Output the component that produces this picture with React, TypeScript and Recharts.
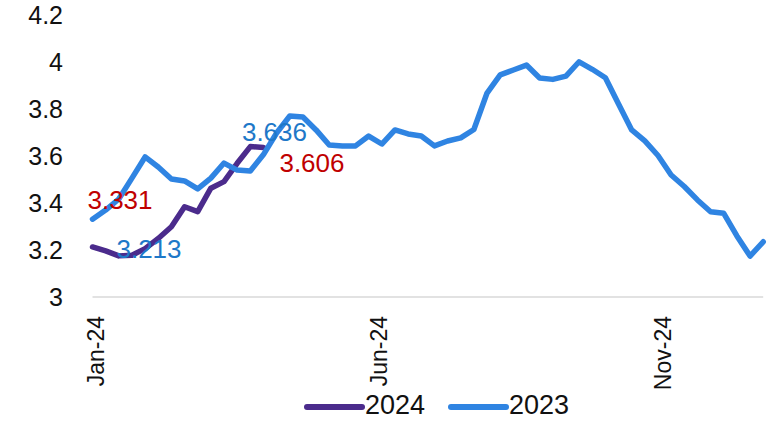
import React from 'react';
import { LineChart, Line, XAxis, YAxis, Legend, LabelList } from 'recharts';

// Week index along the 2024 calendar (52 weekly observations)
const weekIndex: number[] = Array.from({ length: 52 }, (_, i) => i);

// X tick positions (in week units) and their labels
const xTickPositions = [0.27, 21.75, 43.4];
const xTickLabels = ['Jan-24', 'Jun-24', 'Nov-24'];

const yTicks = [3, 3.2, 3.4, 3.6, 3.8, 4, 4.2];

const series2023 = [
  3.331, 3.37, 3.417, 3.506, 3.596, 3.553, 3.502, 3.494, 3.46, 3.506, 3.57, 3.54, 3.536,
  3.606, 3.698, 3.77, 3.766, 3.711, 3.647, 3.643, 3.643, 3.685, 3.651, 3.711, 3.694, 3.685,
  3.643, 3.664, 3.677, 3.713, 3.868, 3.945, 3.966, 3.987, 3.932, 3.926, 3.94, 4.001, 3.969,
  3.933, 3.821, 3.711, 3.664, 3.602, 3.519, 3.47, 3.413, 3.363, 3.356, 3.26, 3.174, 3.235,
];

const series2024 = [
  3.213, 3.196, 3.175, 3.178, 3.206, 3.249, 3.299, 3.384, 3.363, 3.463, 3.491, 3.569, 3.64, 3.636,
];

const seriesNames = ['2024', '2023'];

const data = weekIndex.map((w, i) => ({
  w,
  y2024: i < series2024.length ? series2024[i] : null,
  y2023: series2023[i],
}));

const FONT = '"Liberation Sans", Arial, sans-serif';
const PURPLE = '#4B2B8C';
const BLUE = '#2F84E2';
const RED = '#C00000';
const LABEL_BLUE = '#1E78C8';
const seriesColors = [PURPLE, BLUE];

const labelSpecs: Record<string, { index: number; dx: number; dy: number; color: string }[]> = {
  y2023: [
    { index: 0, dx: 27.5, dy: -19, color: RED },
    { index: 13, dx: 48.5, dy: 8.5, color: RED },
  ],
  y2024: [
    { index: 0, dx: 56.5, dy: 2, color: LABEL_BLUE },
    { index: 13, dx: 11, dy: -16, color: LABEL_BLUE },
  ],
};

const makeLabel = (key: string) => (props: any) => {
  const { x, y, value, index } = props;
  const spec = labelSpecs[key].find((s) => s.index === index);
  if (!spec || value == null) return null;
  return (
    <text
      x={x + spec.dx}
      y={y + spec.dy}
      textAnchor="middle"
      dominantBaseline="central"
      fill={spec.color}
      fontSize={26}
      fontFamily={FONT}
    >
      {Number(value).toFixed(3)}
    </text>
  );
};

const XTick = (props: any) => {
  const { x, payload } = props;
  const idx = xTickPositions.indexOf(payload.value);
  const label = idx >= 0 ? xTickLabels[idx] : '';
  return (
    <text
      transform={`translate(${x},316) rotate(-90)`}
      textAnchor="end"
      dominantBaseline="central"
      fontSize={23}
      fontFamily={FONT}
      fill="#111"
    >
      {label}
    </text>
  );
};

const YTick = (props: any) => {
  const { y, payload } = props;
  return (
    <text
      x={63}
      y={y}
      textAnchor="end"
      dominantBaseline="central"
      fontSize={25}
      fontFamily={FONT}
      fill="#111"
    >
      {String(payload.value)}
    </text>
  );
};

const LegendContent = () => {
  return (
    <svg width={777} height={40} style={{ display: 'block' }}>
      {seriesNames.map((name, i) => {
        const x0 = 307 + i * 144;
        return (
          <g key={name}>
            <line x1={x0} x2={x0 + 55} y1={26} y2={26} stroke={seriesColors[i]} strokeWidth={6} strokeLinecap="round" />
            <text x={x0 + 58} y={33} fontSize={27} fontFamily={FONT} fill="#111">
              {name}
            </text>
          </g>
        );
      })}
    </svg>
  );
};

export default function App() {
  return (
    <div style={{ position: 'absolute', left: 0, top: 0, width: 777, height: 421, background: '#fff', overflow: 'hidden' }}>
      <LineChart width={777} height={421} data={data} margin={{ top: 15, right: 13.8, bottom: 0, left: 0 }}>
        <XAxis
          dataKey="w"
          type="number"
          domain={[0, 51]}
          ticks={xTickPositions}
          tick={<XTick />}
          tickLine={false}
          axisLine={{ stroke: '#D9D9D9', strokeWidth: 1.5 }}
          height={124}
          interval={0}
        />
        <YAxis
          domain={[3, 4.2]}
          ticks={yTicks}
          tick={<YTick />}
          tickLine={false}
          axisLine={false}
          width={92.5}
          interval={0}
        />
        <Legend
          layout="horizontal"
          align="center"
          verticalAlign="middle"
          wrapperStyle={{ left: 0, top: 381, width: 777, height: 40 }}
          content={<LegendContent />}
        />
        <Line
          dataKey="y2024"
          name={seriesNames[0]}
          stroke={PURPLE}
          strokeWidth={5.5}
          dot={false}
          strokeLinejoin="round"
          strokeLinecap="round"
          isAnimationActive={false}
          connectNulls={false}
        >
          <LabelList dataKey="y2024" content={makeLabel('y2024')} />
        </Line>
        <Line
          dataKey="y2023"
          name={seriesNames[1]}
          stroke={BLUE}
          strokeWidth={5.5}
          dot={false}
          strokeLinejoin="round"
          strokeLinecap="round"
          isAnimationActive={false}
        >
          <LabelList dataKey="y2023" content={makeLabel('y2023')} />
        </Line>
      </LineChart>
    </div>
  );
}
